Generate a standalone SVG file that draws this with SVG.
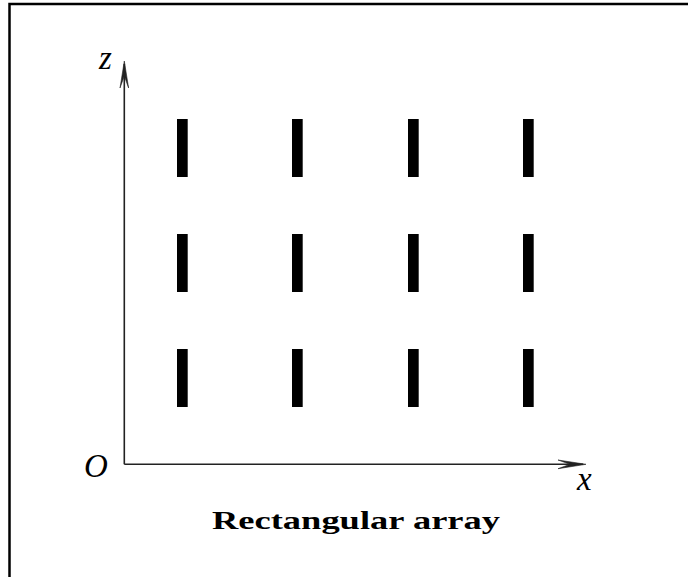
<svg xmlns="http://www.w3.org/2000/svg" width="688" height="577" viewBox="0 0 688 577">
<style>
.bar{fill:#000}
.axis{stroke:#222;stroke-width:1.6;fill:none}
.head{fill:#222;stroke:#222;stroke-width:0.6}
.math{font-family:"Liberation Serif","DejaVu Serif",serif;font-style:italic;font-size:33px;fill:#000}
.title{font-family:"Liberation Serif","DejaVu Serif",serif;font-weight:bold;font-size:26px;fill:#000}
</style>
<rect width="688" height="577" fill="#fff"/>
<path d="M9.5,577 V4 H688" fill="none" stroke="#000" stroke-width="2.5"/>
<g id="connectors">
  <line class="axis" x1="124.3" y1="464.3" x2="124.3" y2="64"/>
  <path class="head" d="M124.3,61 L128.6,88 L124.3,76 L120,88 Z"/>
  <line class="axis" x1="124.3" y1="464.3" x2="583" y2="464.3"/>
  <path class="head" d="M586,464.3 L558,460 L570,464.3 L558,468.7 Z"/>
</g>
<g id="bar-r1c1"><rect class="bar" x="177" y="119" width="10.7" height="58"/></g>
<g id="bar-r1c2"><rect class="bar" x="292" y="119" width="10.7" height="58"/></g>
<g id="bar-r1c3"><rect class="bar" x="408" y="119" width="10.7" height="58"/></g>
<g id="bar-r1c4"><rect class="bar" x="523" y="119" width="10.7" height="58"/></g>
<g id="bar-r2c1"><rect class="bar" x="177" y="234" width="10.7" height="58"/></g>
<g id="bar-r2c2"><rect class="bar" x="292" y="234" width="10.7" height="58"/></g>
<g id="bar-r2c3"><rect class="bar" x="408" y="234" width="10.7" height="58"/></g>
<g id="bar-r2c4"><rect class="bar" x="523" y="234" width="10.7" height="58"/></g>
<g id="bar-r3c1"><rect class="bar" x="177" y="349" width="10.7" height="58"/></g>
<g id="bar-r3c2"><rect class="bar" x="292" y="349" width="10.7" height="58"/></g>
<g id="bar-r3c3"><rect class="bar" x="408" y="349" width="10.7" height="58"/></g>
<g id="bar-r3c4"><rect class="bar" x="523" y="349" width="10.7" height="58"/></g>
<g id="labels">
  <text class="math" x="99" y="69">z</text>
  <text class="math" x="84" y="476.5">O</text>
  <text class="math" x="577" y="490">x</text>
  <text class="title" x="212" y="529" textLength="288" lengthAdjust="spacingAndGlyphs">Rectangular array</text>
</g>
</svg>
